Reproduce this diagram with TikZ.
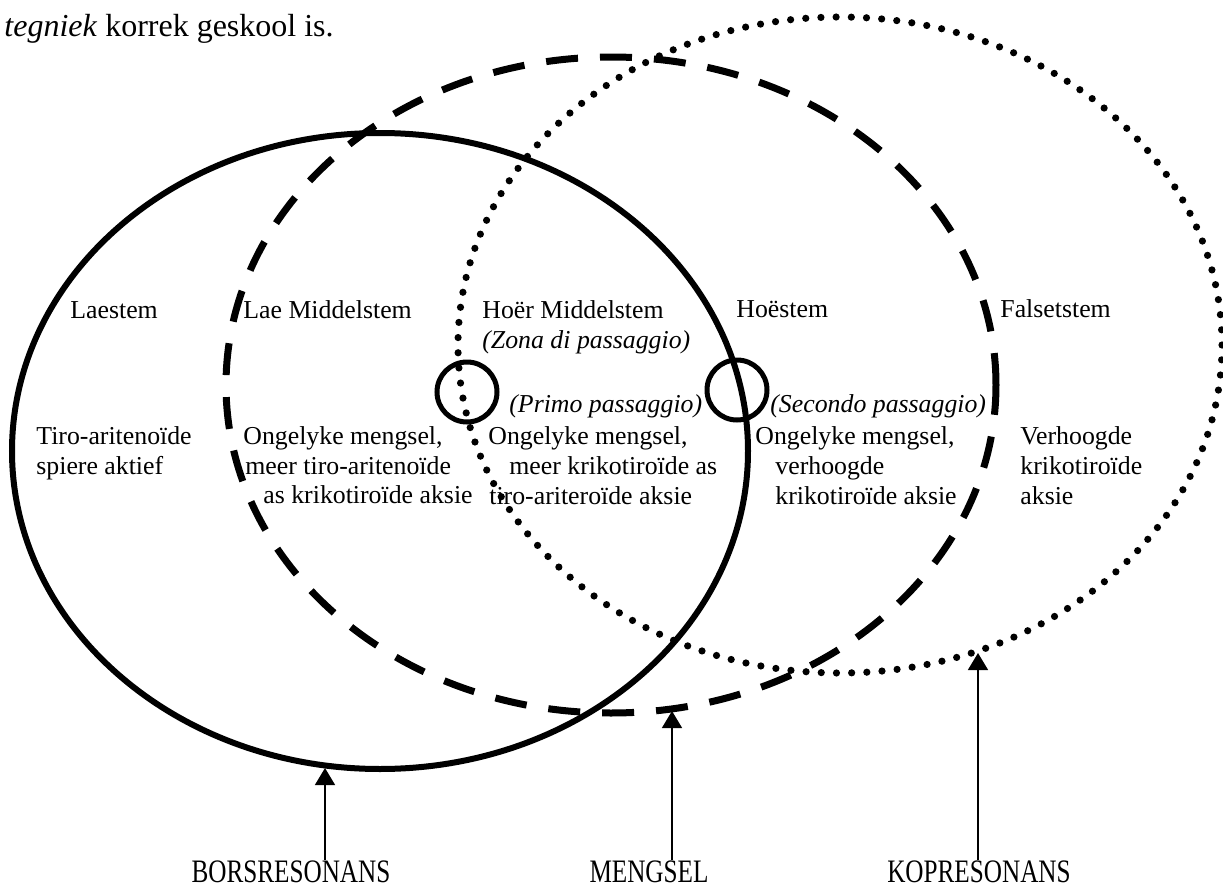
\documentclass[tikz,border=0pt]{standalone}
\usepackage{fontspec}
\setmainfont{Liberation Serif}
\usetikzlibrary{arrows.meta}
\begin{document}
\begin{tikzpicture}[x=0.5pt,y=-0.5pt,
  txt/.style={inner sep=0pt, anchor=base west, font=\fontsize{12.9pt}{14.5pt}\selectfont},
  itx/.style={inner sep=0pt, anchor=base west, font=\fontsize{12.9pt}{14.5pt}\selectfont\itshape},
  headtxt/.style={inner sep=0pt, anchor=base west, font=\fontsize{16pt}{18pt}\selectfont},
  lbl/.style={inner sep=0pt, anchor=base, font=\fontsize{12.6pt}{14.5pt}\selectfont},
  ringsolid/.style={line width=3pt},
  ringdash/.style={line width=3.5pt, dash pattern=on 16pt off 11pt},
  ringdot/.style={line width=3.6pt, line cap=round, dash pattern=on 0pt off 7.6pt},
  passring/.style={line width=2.5pt},
  arr/.style={line width=0.75pt, -{Triangle[width=10pt,length=8.5pt]}}]
\fill[white] (0,0) rectangle (1223,889);
\useasboundingbox (0,0) rectangle (1223,889);

% rings
\draw[ringsolid] (380,451) ellipse [x radius=184pt, y radius=159pt];
\draw[ringdash] (611,385) ellipse [x radius=192.5pt, y radius=164pt];
\draw[ringdot] (840,345) ellipse [x radius=191pt, y radius=164pt];
\draw[passring] (467,392) circle [radius=15pt];
\draw[passring] (737,390) circle [radius=15pt];

% heading text
\node[headtxt] (head) at (4,36) {\textit{tegniek} korrek geskool is.};

% register names
\node[txt] (laestem) at (70,318) {Laestem};
\node[txt] (laemid) at (243,318) {Lae Middelstem};
\node[txt] (hoermid) at (482,318) {Hoër Middelstem};
\node[itx] (zona) at (482,348) {(Zona di passaggio)};
\node[txt] (hoestem) at (736,317) {Hoëstem};
\node[txt] (falset) at (1000,317) {Falsetstem};
\node[itx] (primo) at (509,412) {(Primo passaggio)};
\node[itx] (secondo) at (770,412) {(Secondo passaggio)};

% descriptions
\node[txt] (d1a) at (36,444) {Tiro-aritenoïde};
\node[txt] (d1b) at (36,474) {spiere aktief};
\node[txt] (d2a) at (243,444) {Ongelyke mengsel,};
\node[txt] (d2b) at (245,474) {meer tiro-aritenoïde};
\node[txt] (d2c) at (263,503) {as krikotiroïde aksie};
\node[txt] (d3a) at (488,444) {Ongelyke mengsel,};
\node[txt] (d3b) at (509,474) {meer krikotiroïde as};
\node[txt] (d3c) at (489,504) {tiro-ariteroïde aksie};
\node[txt] (d4a) at (755,444) {Ongelyke mengsel,};
\node[txt] (d4b) at (775,474) {verhoogde};
\node[txt] (d4c) at (775,504) {krikotiroïde aksie};
\node[txt] (d5a) at (1020,444) {Verhoogde};
\node[txt] (d5b) at (1020,474) {krikotiroïde};
\node[txt] (d5c) at (1020,504) {aksie};

% bottom labels (tall, condensed type)
\node[lbl] (bors) at (291,882) {\scalebox{1}[1.3]{BORSRESONANS}};
\node[lbl] (meng) at (649,882) {\scalebox{1}[1.3]{MENGSEL}};
\node[lbl] (kop) at (979,882) {\scalebox{1}[1.3]{KOPRESONANS}};

% arrow tips on the rings
\coordinate (tipB) at (325,768);
\coordinate (tipM) at (672,711);
\coordinate (tipK) at (978,653);
\draw[arr] (tipB |- bors.north) -- (tipB);
\draw[arr] (tipM |- meng.north) -- (tipM);
\draw[arr] (tipK |- kop.north) -- (tipK);
\end{tikzpicture}
\end{document}
